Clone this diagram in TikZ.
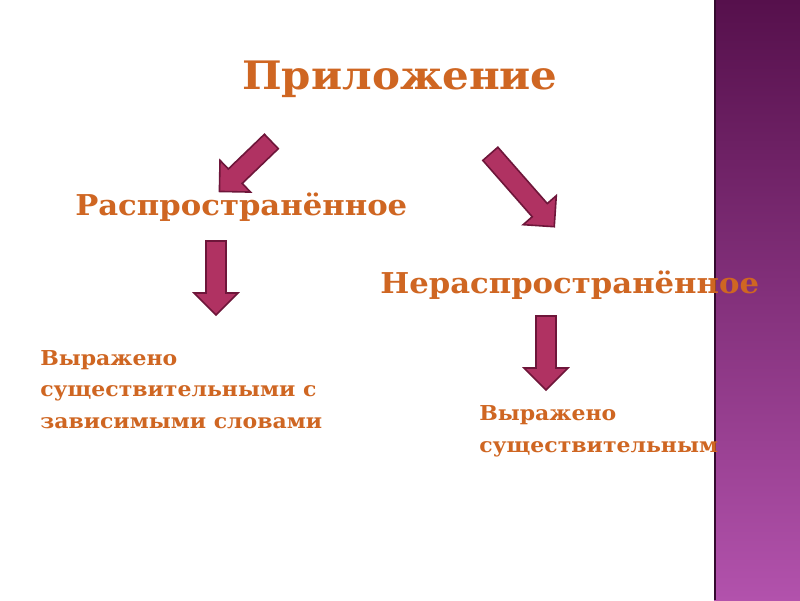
\documentclass[tikz,border=0pt]{standalone}
\usepackage{fontspec}
\setmainfont{DejaVu Serif}[FakeStretch=1.07]
\usepackage{tikz}
\usetikzlibrary{calc,shapes.arrows}
\definecolor{titleOrange}{RGB}{207,102,34}
\definecolor{arrowFill}{RGB}{176,50,98}
\definecolor{arrowEdge}{RGB}{110,22,58}
\definecolor{bandTop}{RGB}{86,16,76}
\definecolor{bandBottom}{RGB}{178,82,172}
\definecolor{bandEdge}{RGB}{52,10,46}

\begin{document}
\begin{tikzpicture}[
    x=0.25mm, y=-0.25mm,
    heading/.style={
        text=titleOrange,
        inner sep=0pt,
        font=\bfseries\fontsize{20.4}{24}\selectfont
    },
    bodyText/.style={
        text=titleOrange,
        inner sep=0pt,
        align=left,
        font=\bfseries\fontsize{14.6}{22.3}\selectfont
    },
    blockArrow/.style={
        single arrow,
        draw=arrowEdge,
        fill=arrowFill,
        line width=0.4mm,
        text height=0pt, text depth=0pt,
        inner xsep=0pt, inner ysep=2.3mm,
        single arrow head extend=3mm,
        single arrow head indent=0pt
    }
]
    % page and side band
    \fill[white] (0,0) rectangle (800,600);
    \useasboundingbox (0,0) rectangle (800,600);
    \shade[top color=bandTop, bottom color=bandBottom] (714,0) rectangle (800,600);
    \draw[bandEdge, line width=0.5mm] (715,0) -- (715,600);

    \node[text=titleOrange, inner sep=0pt, anchor=base,
          font=\bfseries\fontsize{27.9}{32}\selectfont] (title) at (400,89) {Приложение};
    \node[heading, anchor=base west] (spread) at (75,215) {Распространённое};
    \node[heading, anchor=base west] (bare) at (380,293) {Нераспространённое};
    % base of a multi-line node is its last line
    \node[bodyText, anchor=base west] (spreadNote) at (40,428)
        {Выражено\\существительными с\\зависимыми словами};
    \node[bodyText, anchor=base west] (bareNote) at (479,452)
        {Выражено\\существительным};

    % arrow ends
    \coordinate (leftTail) at (275,138);
    \coordinate (leftTip) at (223,188);
    \coordinate (rightTail) at (487,150);
    \coordinate (rightTip) at (551,223);
    \coordinate (spreadTail) at (216,236);
    \coordinate (spreadTip) at (216,310);
    \coordinate (bareTail) at (546,311);
    \coordinate (bareTip) at (546,385);

    \path let \p1=($(leftTip)-(leftTail)$), \n1={atan2(\y1,\x1)}, \n2={veclen(\x1,\y1)} in
        node[blockArrow, rotate=\n1, minimum height=\n2] (leftArrow) at ($(leftTail)!.5!(leftTip)$) {};
    \path let \p1=($(rightTip)-(rightTail)$), \n1={atan2(\y1,\x1)}, \n2={veclen(\x1,\y1)} in
        node[blockArrow, rotate=\n1, minimum height=\n2] (rightArrow) at ($(rightTail)!.5!(rightTip)$) {};
    \path let \p1=($(spreadTip)-(spreadTail)$), \n1={atan2(\y1,\x1)}, \n2={veclen(\x1,\y1)} in
        node[blockArrow, rotate=\n1, minimum height=\n2] (spreadArrow) at ($(spreadTail)!.5!(spreadTip)$) {};
    \path let \p1=($(bareTip)-(bareTail)$), \n1={atan2(\y1,\x1)}, \n2={veclen(\x1,\y1)} in
        node[blockArrow, rotate=\n1, minimum height=\n2] (bareArrow) at ($(bareTail)!.5!(bareTip)$) {};
\end{tikzpicture}
\end{document}
